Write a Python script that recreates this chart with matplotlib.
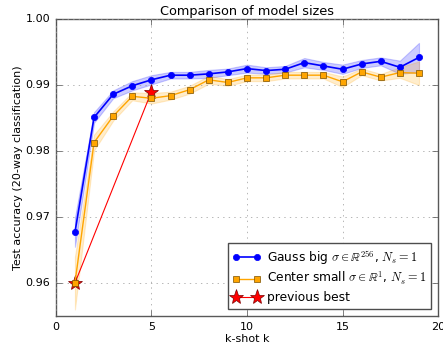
import matplotlib
matplotlib.use("Agg")
import matplotlib.pyplot as plt
import numpy as np

plt.style.use("classic")

k = np.arange(1, 20)

# Gauss big
gauss_mean = [0.9677, 0.9851, 0.9886, 0.9899, 0.9908, 0.9915, 0.9915, 0.9917, 0.9920, 0.9925,
              0.9922, 0.9924, 0.9934, 0.9929, 0.9924, 0.9932, 0.9936, 0.9927, 0.9942]
gauss_std = [0.0022, 0.0008, 0.0006, 0.0007, 0.0007, 0.0005, 0.0005, 0.0006, 0.0005, 0.0006,
             0.0005, 0.0005, 0.0007, 0.0006, 0.0007, 0.0006, 0.0006, 0.0010, 0.0022]

# Center small
center_mean = [0.9600, 0.9813, 0.9853, 0.9883, 0.9880, 0.9884, 0.9893, 0.9908, 0.9904, 0.9911,
               0.9911, 0.9915, 0.9915, 0.9915, 0.9905, 0.9920, 0.9912, 0.9919, 0.9918]
center_std = [0.0040, 0.0012, 0.0007, 0.0006, 0.0008, 0.0006, 0.0006, 0.0006, 0.0005, 0.0005,
              0.0005, 0.0005, 0.0005, 0.0005, 0.0008, 0.0005, 0.0005, 0.0008, 0.0018]

prev_k = [1, 5]
prev_acc = [0.960, 0.989]

gauss_mean = np.array(gauss_mean)
gauss_std = np.array(gauss_std)
center_mean = np.array(center_mean)
center_std = np.array(center_std)

fig = plt.figure(figsize=(4.43, 3.47), dpi=100)
ax = fig.add_axes([0.126, 0.089, 0.863, 0.856])

ax.fill_between(k, gauss_mean - gauss_std, gauss_mean + gauss_std,
                facecolor="blue", edgecolor="blue", alpha=0.2, linewidth=0.8)
ax.fill_between(k, center_mean - center_std, center_mean + center_std,
                facecolor="orange", edgecolor="orange", alpha=0.2, linewidth=0.8)

ax.plot(k, gauss_mean, "o-", color="blue", markeredgecolor="blue", markersize=4.5,
        linewidth=1.2, zorder=4, label=r"Gauss big $\sigma \in \mathbb{R}^{256}$, $N_s=1$")
ax.plot(k, center_mean, "s-", color="orange", markeredgecolor="#7a5000", markersize=4.5,
        linewidth=1.0, zorder=4, label=r"Center small $\sigma \in \mathbb{R}^{1}$, $N_s=1$")
ax.plot(prev_k, prev_acc, "*-", color="red", markersize=11, linewidth=0.8,
        markeredgecolor="#7a0000", zorder=3, label="previous best")

ax.set_xlim(0, 20)
ax.set_ylim(0.955, 1.0)
ax.set_yticks([0.96, 0.97, 0.98, 0.99, 1.00])
ax.set_xticks([0, 5, 10, 15, 20])
ax.tick_params(labelsize=8, color="0.3")
for sp in ax.spines.values():
    sp.set_color("0.35")
ax.set_title("Comparison of model sizes", fontsize=9.3, pad=3)
ax.set_xlabel("k-shot k", fontsize=8, labelpad=2)
ax.set_ylabel("Test accuracy (20-way classification)", fontsize=8, labelpad=2)
ax.grid(True, color="0.6")
leg = ax.legend(loc="lower right", fontsize=8.8, numpoints=2, handlelength=2.3,
                handletextpad=0.5, borderaxespad=0.6, labelspacing=0.3,
                borderpad=0.4)
leg.get_frame().set_edgecolor("0.3")

fig.savefig("out.png", dpi=100)
